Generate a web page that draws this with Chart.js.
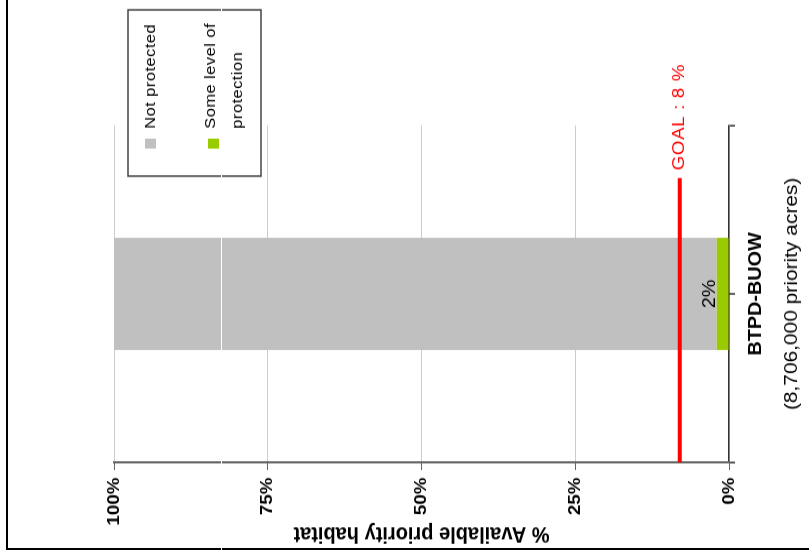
<!DOCTYPE html>
<html>
<head>
<meta charset="utf-8">
<script src="https://cdn.jsdelivr.net/npm/chart.js"></script>
<style>
  html, body { margin: 0; padding: 0; background: #fff; }
  #stage { position: relative; width: 809px; height: 557px; overflow: hidden; background: #fff; }
  /* the chart is drawn upright and then turned a quarter left, like the scan */
  #rot { position: absolute; left: 0; top: 0; width: 506px; height: 809px;
         transform-origin: 0 0; transform: translateY(557px) rotate(-90deg) scaleX(1.1008); }
  #rot canvas { display: block; }
  #frame { position: absolute; left: 6px; top: -4px; width: 820px; height: 552px;
           border-left: 2px solid #000; border-bottom: 2px solid #000; }
  #scratch { position: absolute; left: 221px; top: 0; width: 1px; height: 557px; background: #fff; }
</style>
</head>
<body>
<div id="stage">
  <div id="rot"><canvas id="myChart" width="506" height="809"></canvas></div>
  <div id="frame"></div>
  <div id="scratch"></div>
</div>
<script>
// data
var categories = ['BTPD-BUOW'];
var priorityAcres = ['8,706,000'];
var seriesNames = ['Not protected', 'Some level of protection'];
var notProtected = [98];
var someProtection = [2];
var pctTicks = [0, 25, 50, 75, 100];
var goalPct = 8;

var grayColor = '#c0c0c0';
var greenColor = '#99cc00';

Chart.defaults.font.family = 'Arial, "Liberation Sans", sans-serif';
Chart.defaults.color = '#000';

// wraps a legend label into lines no wider than maxW
function wrapText(ctx, text, maxW) {
    var words = text.split(' ');
    var lines = [];
    var line = '';
    words.forEach(function (w) {
        var test = line ? line + ' ' + w : w;
        if (ctx.measureText(test).width > maxW && line) {
            lines.push(line);
            line = w;
        } else {
            line = test;
        }
    });
    lines.push(line);
    return lines;
}

var extras = {
    id: 'extras',
    afterDatasetsDraw: function (chart) {
        var ctx = chart.ctx;
        var a = chart.chartArea;
        var x = chart.scales.x;
        var y = chart.scales.y;
        ctx.save();

        // tick mark under the middle of each category
        ctx.strokeStyle = '#333';
        ctx.lineWidth = 1.5;
        categories.forEach(function (c, i) {
            var cx = x.getPixelForValue(i);
            ctx.beginPath();
            ctx.moveTo(cx, a.bottom);
            ctx.lineTo(cx, a.bottom + 6);
            ctx.stroke();
        });

        // value label above the green piece
        var meta = chart.getDatasetMeta(0);
        ctx.fillStyle = '#000';
        ctx.font = '18px Arial, "Liberation Sans", sans-serif';
        ctx.textAlign = 'center';
        ctx.textBaseline = 'alphabetic';
        meta.data.forEach(function (bar, i) {
            ctx.fillText(someProtection[i] + '%', bar.x, bar.y - 2);
        });

        // goal line
        var gy = y.getPixelForValue(goalPct);
        var gEnd = a.left + (a.right - a.left) * 0.844;
        ctx.strokeStyle = '#ff0000';
        ctx.lineWidth = 4;
        ctx.beginPath();
        ctx.moveTo(a.left, gy);
        ctx.lineTo(gEnd, gy);
        ctx.stroke();
        ctx.fillStyle = '#ff0000';
        ctx.font = '17px Arial, "Liberation Sans", sans-serif';
        ctx.letterSpacing = '0.6px';
        ctx.textAlign = 'left';
        ctx.textBaseline = 'middle';
        ctx.fillText('GOAL : ' + goalPct + ' %', gEnd + 7, gy);

        // legend box
        var boxL = chart.width - 160, boxR = chart.width - 9;
        var boxT = 128, boxB = 261;
        ctx.fillStyle = '#fff';
        ctx.fillRect(boxL, boxT, boxR - boxL, boxB - boxT);
        ctx.strokeStyle = '#444';
        ctx.lineWidth = 1.5;
        ctx.strokeRect(boxL, boxT, boxR - boxL, boxB - boxT);

        var colors = [grayColor, greenColor];
        var itemY = [151, 211];
        ctx.font = '15px Arial, "Liberation Sans", sans-serif';
        ctx.letterSpacing = '0.4px';
        ctx.textAlign = 'left';
        ctx.textBaseline = 'middle';
        seriesNames.forEach(function (name, i) {
            ctx.fillStyle = colors[i];
            ctx.fillRect(boxL + 25, itemY[i] - 6 + (i ? 3 : 0), 9, 11);
            ctx.fillStyle = '#000';
            wrapText(ctx, name, 104).forEach(function (ln, k) {
                ctx.fillText(ln, boxL + 43, itemY[i] + k * 27);
            });
        });
        ctx.letterSpacing = '0px';
        ctx.restore();
    }
};

var ctx = document.getElementById('myChart');
var myChart = new Chart(ctx, {
    type: 'bar',
    data: {
        labels: categories,
        datasets: [{
            label: seriesNames[1],
            data: someProtection,
            backgroundColor: greenColor,
            categoryPercentage: 0.333,
            barPercentage: 1
        }, {
            label: seriesNames[0],
            data: notProtected,
            backgroundColor: grayColor,
            categoryPercentage: 0.333,
            barPercentage: 1
        }]
    },
    options: {
        responsive: false,
        animation: false,
        devicePixelRatio: 1,
        layout: { padding: { top: 114, right: 114, left: 0, bottom: 0 } },
        plugins: { legend: { display: false }, tooltip: { enabled: false } },
        scales: {
            x: {
                stacked: true,
                grid: { drawOnChartArea: false, color: '#333', tickLength: 6, lineWidth: 1.5 },
                border: { color: '#333', width: 1.5 },
                ticks: {
                    maxRotation: 0,
                    padding: 10,
                    color: '#000',
                    font: { size: 18, weight: 'bold' },
                    callback: function (v, i) { return categories[i]; }
                },
                title: {
                    display: true,
                    text: '(' + priorityAcres[0] + ' priority acres)',
                    color: '#000',
                    font: { size: 19 },
                    padding: { top: 2, bottom: 6 }
                },
                afterFit: function (s) { s.height = 80; }
            },
            y: {
                stacked: true,
                min: 0,
                max: 100,
                afterBuildTicks: function (s) {
                    s.ticks = pctTicks.map(function (v) { return { value: v }; });
                },
                ticks: {
                    padding: 7,
                    color: '#000',
                    font: { size: 17, weight: 'bold' },
                    callback: function (v) { return v + '%'; }
                },
                grid: { color: '#cccccc', lineWidth: 1, tickColor: '#666', tickLength: 7 },
                border: { color: '#666', width: 2 },
                title: {
                    display: true,
                    text: '% Available priority habitat',
                    color: '#000',
                    font: { size: 20, weight: 'bold' },
                    padding: { top: 9, bottom: 0 }
                },
                afterFit: function (s) { s.width = 86; }
            }
        }
    },
    plugins: [extras]
});
</script>
</body>
</html>
